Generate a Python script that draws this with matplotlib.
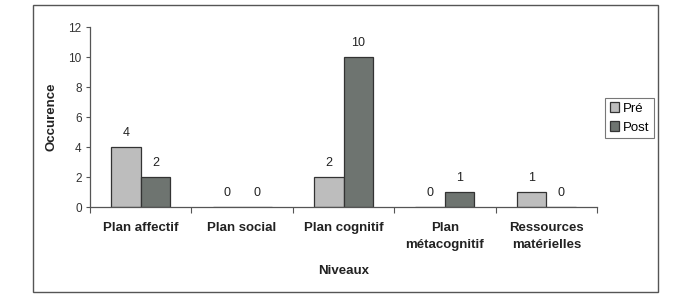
import matplotlib
matplotlib.use("Agg")
import matplotlib.pyplot as plt
from matplotlib.patches import Rectangle
import numpy as np

categories = ["Plan affectif", "Plan social", "Plan cognitif", "Plan\nmétacognitif", "Ressources\nmatérielles"]
pre = [4, 0, 2, 0, 1]
post = [2, 0, 10, 1, 0]
yticks = [0, 2, 4, 6, 8, 10, 12]

plt.rcParams['font.family'] = ['Liberation Sans', 'DejaVu Sans']

fig = plt.figure(figsize=(6.82, 2.97), dpi=100)
fig.patches.append(Rectangle((33/682, 1-292/297), (658-33)/682, (292-5)/297,
                             transform=fig.transFigure, fill=False, edgecolor='#555555', lw=1.0))
ax = fig.add_axes([90/682, 1-207/297, (597-90)/682, (207-27)/297])

x = np.arange(len(categories))
w = 0.29
b1 = ax.bar(x - w/2, pre, w, color='#bdbdbd', edgecolor='#333333', linewidth=0.9, label='Pré')
b2 = ax.bar(x + w/2, post, w, color='#6e7470', edgecolor='#333333', linewidth=0.9, label='Post')

for rects, vals in ((b1, pre), (b2, post)):
    for r, v in zip(rects, vals):
        ax.text(r.get_x() + r.get_width()/2, v + 0.55, str(v), ha='center', va='bottom', fontsize=9, color='#222222')

ax.set_xlim(-0.5, len(categories) - 0.5)
ax.set_ylim(0, 12)
ax.set_yticks(yticks)
ax.set_yticklabels([str(t) for t in yticks], fontsize=8.5, color='#333333')
ax.set_xticks(np.arange(len(categories) + 1) - 0.5, minor=False)
ax.set_xticklabels([])
ax.set_xticks(x, minor=True)
ax.set_xticklabels(categories, minor=True, fontsize=9.5, fontweight='bold', color='#222222', linespacing=1.5)
ax.tick_params(axis='x', which='minor', length=0, pad=11)
ax.tick_params(axis='x', which='major', length=4, direction='out', color='#555555')
ax.tick_params(axis='y', length=3, direction='out', color='#555555', pad=3)
for s in ('top', 'right'):
    ax.spines[s].set_visible(False)
for s in ('left', 'bottom'):
    ax.spines[s].set_color('#555555')
    ax.spines[s].set_linewidth(0.9)

ax.set_ylabel('Occurence', fontsize=9.5, fontweight='bold', color='#222222', labelpad=8)
ax.set_xlabel('Niveaux', fontsize=9.5, fontweight='bold', color='#222222', labelpad=10)

leg = ax.legend(loc='center left', bbox_to_anchor=(605/682, 1-118/297), bbox_transform=fig.transFigure,
                fontsize=9.5, frameon=True, fancybox=False, edgecolor='#555555',
                handlelength=0.7, handleheight=0.7, handletextpad=0.3, borderpad=0.35, labelspacing=0.5,
                borderaxespad=0)
leg.get_frame().set_linewidth(0.8)

fig.savefig('out.png', dpi=100)
